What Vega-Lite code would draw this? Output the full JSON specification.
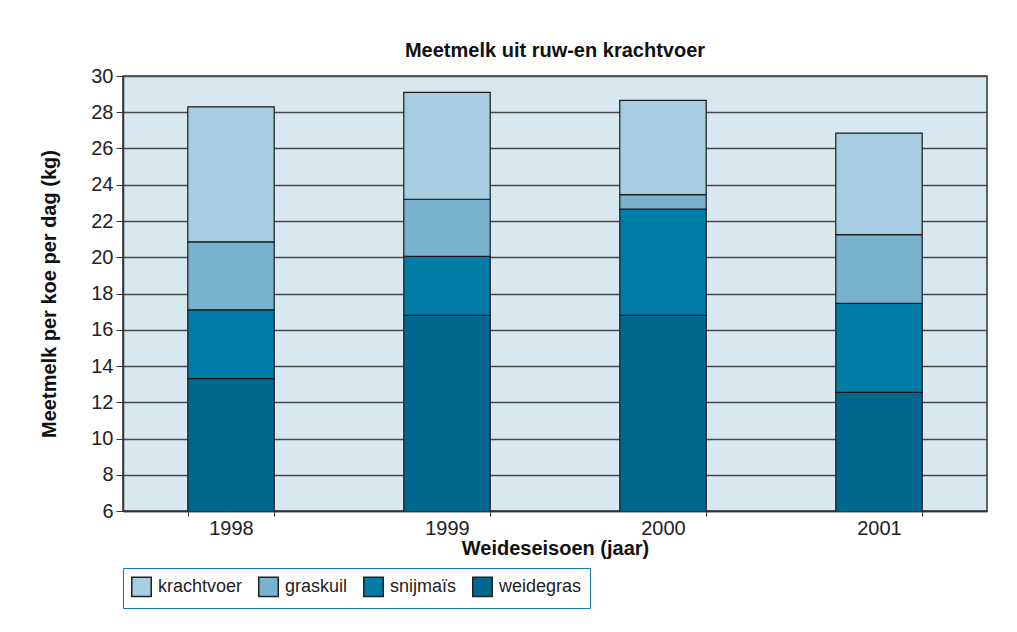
{
  "$schema": "https://vega.github.io/schema/vega-lite/v6.json",
  "width": 864,
  "height": 435,
  "autosize": "none",
  "padding": {"left": 123, "top": 76, "right": 30, "bottom": 121},
  "background": "white",
  "title": {
    "text": "Meetmelk uit ruw-en krachtvoer",
    "fontSize": 20,
    "fontWeight": "bold",
    "font": "Liberation Sans",
    "color": "#111",
    "anchor": "middle",
    "offset": 5
  },
  "data": {
    "values": [
      {"jaar": "1998", "soort": "weidegras", "kg": 13.3},
      {"jaar": "1998", "soort": "snijmaïs", "kg": 3.8},
      {"jaar": "1998", "soort": "graskuil", "kg": 3.75},
      {"jaar": "1998", "soort": "krachtvoer", "kg": 7.45},
      {"jaar": "1999", "soort": "weidegras", "kg": 16.8},
      {"jaar": "1999", "soort": "snijmaïs", "kg": 3.25},
      {"jaar": "1999", "soort": "graskuil", "kg": 3.15},
      {"jaar": "1999", "soort": "krachtvoer", "kg": 5.9},
      {"jaar": "2000", "soort": "weidegras", "kg": 16.8},
      {"jaar": "2000", "soort": "snijmaïs", "kg": 5.85},
      {"jaar": "2000", "soort": "graskuil", "kg": 0.8},
      {"jaar": "2000", "soort": "krachtvoer", "kg": 5.2},
      {"jaar": "2001", "soort": "weidegras", "kg": 12.55},
      {"jaar": "2001", "soort": "snijmaïs", "kg": 4.9},
      {"jaar": "2001", "soort": "graskuil", "kg": 3.8},
      {"jaar": "2001", "soort": "krachtvoer", "kg": 5.6}
    ]
  },
  "transform": [
    {"calculate": "indexof(['weidegras', 'snijmaïs', 'graskuil', 'krachtvoer'], datum.soort)", "as": "stapel"}
  ],
  "mark": {"type": "bar", "clip": true, "stroke": "#1a1a1a", "strokeWidth": 1.2},
  "encoding": {
    "x": {
      "field": "jaar",
      "type": "nominal",
      "scale": {"paddingInner": 0.6, "paddingOuter": 0.3},
      "axis": {
        "title": "Weideseisoen (jaar)",
        "labelAngle": 0,
        "tickBand": "extent",
        "tickSize": 5,
        "labelPadding": 2,
        "titlePadding": 0,
        "domainColor": "#333",
        "tickColor": "#333",
        "domainWidth": 1.5
      }
    },
    "y": {
      "field": "kg",
      "type": "quantitative",
      "stack": "zero",
      "scale": {"domain": [6, 30], "zero": false, "nice": false},
      "axis": {
        "title": "Meetmelk per koe per dag (kg)",
        "values": [6, 8, 10, 12, 14, 16, 18, 20, 22, 24, 26, 28, 30],
        "tickSize": 7,
        "labelPadding": 3,
        "titlePadding": 31,
        "grid": true,
        "gridColor": "#4a4a4a",
        "gridWidth": 1.5,
        "domainColor": "#333",
        "tickColor": "#333",
        "domainWidth": 1.5
      }
    },
    "order": {"field": "stapel", "type": "quantitative", "sort": "ascending"},
    "color": {
      "field": "soort",
      "type": "nominal",
      "scale": {
        "domain": ["krachtvoer", "graskuil", "snijmaïs", "weidegras"],
        "range": ["#a6cde0", "#78b2cf", "#007ca6", "#00688f"]
      },
      "legend": {
        "title": null,
        "orient": "none",
        "legendX": 0,
        "legendY": 492,
        "direction": "horizontal",
        "columns": 4,
        "symbolType": "square",
        "symbolSize": 380,
        "symbolStrokeColor": "#222",
        "symbolStrokeWidth": 1.5,
        "symbolOpacity": 1,
        "labelFontSize": 18,
        "labelColor": "#222",
        "labelOffset": 6,
        "columnPadding": 12,
        "padding": 8,
        "strokeColor": "#1a7ca6",
        "fillColor": "white"
      }
    }
  },
  "config": {
    "font": "Liberation Sans",
    "view": {"fill": "#d8e8f0", "stroke": "#333", "strokeWidth": 1.5},
    "axis": {
      "labelFontSize": 20,
      "labelColor": "#222",
      "titleFontSize": 20,
      "titleFontWeight": "bold",
      "titleColor": "#111"
    }
  }
}
